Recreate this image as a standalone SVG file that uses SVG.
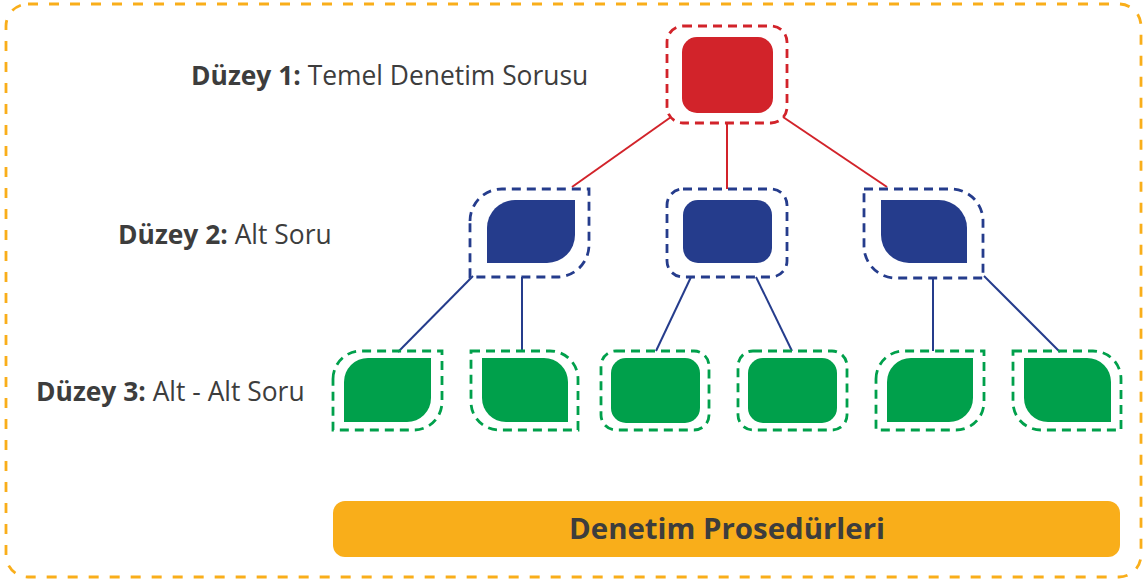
<svg xmlns="http://www.w3.org/2000/svg" width="1145" height="580" viewBox="0 0 1145 580">
  <style>
    .lbl { font-family: "Open Sans", "Liberation Sans", sans-serif; font-size: 26.4px; fill: #3d3d3d; }
    .b { font-weight: bold; }
    .frame { fill: none; stroke: #f9ae1a; stroke-width: 2.8; stroke-dasharray: 10 11; }
    .dr { fill: none; stroke: #d2232a; stroke-width: 2.8; stroke-dasharray: 9 6; }
    .db { fill: none; stroke: #253c8c; stroke-width: 2.8; stroke-dasharray: 9 6; }
    .dg { fill: none; stroke: #00a04b; stroke-width: 2.8; stroke-dasharray: 9 6; }
    .fr { fill: #d2232a; }
    .fb { fill: #253c8c; }
    .fg { fill: #00a04b; }
    .cr { stroke: #d2232a; stroke-width: 2; fill: none; }
    .cb { stroke: #253c8c; stroke-width: 2; fill: none; }
  </style>
  <rect class="frame" x="6" y="4" width="1135" height="573" rx="22"/>

  <g id="labels">
    <text class="lbl" x="191" y="85"><tspan class="b">Düzey 1:</tspan> Temel Denetim Sorusu</text>
    <text class="lbl" x="118" y="244"><tspan class="b">Düzey 2:</tspan> Alt Soru</text>
    <text class="lbl" x="36" y="401"><tspan class="b">Düzey 3:</tspan> Alt - Alt Soru</text>
  </g>

  <g id="connectors">
    <line class="cr" x1="671" y1="117" x2="572" y2="187"/>
    <line class="cr" x1="727" y1="123" x2="727" y2="189"/>
    <line class="cr" x1="783" y1="117" x2="887" y2="187"/>
    <line class="cb" x1="473" y1="276" x2="398" y2="352"/>
    <line class="cb" x1="522" y1="277" x2="522" y2="351"/>
    <line class="cb" x1="691" y1="277" x2="656" y2="351"/>
    <line class="cb" x1="756" y1="277" x2="792" y2="351"/>
    <line class="cb" x1="933" y1="278" x2="933" y2="351"/>
    <line class="cb" x1="984" y1="276" x2="1060" y2="352"/>
  </g>

  <g id="n1">
    <rect class="dr" x="667" y="26" width="120" height="97" rx="16"/>
    <rect class="fr" x="682" y="37" width="91" height="76" rx="15"/>
  </g>

  <g id="n2a">
    <path class="db" d="M470,221 A32,32 0 0 1 502,189 H589 V245 A32,32 0 0 1 557,277 H470 Z"/>
    <path class="fb" d="M487,228 A28,28 0 0 1 515,200 H575 V235 A28,28 0 0 1 547,263 H487 Z"/>
  </g>
  <g id="n2b">
    <rect class="db" x="667" y="189" width="120" height="88" rx="16"/>
    <rect class="fb" x="683" y="200" width="89" height="63" rx="15"/>
  </g>
  <g id="n2c">
    <path class="db" d="M864,189 H951 A32,32 0 0 1 983,221 V278 H896 A32,32 0 0 1 864,246 Z"/>
    <path class="fb" d="M881,200 H939 A28,28 0 0 1 967,228 V263 H909 A28,28 0 0 1 881,235 Z"/>
  </g>

  <g id="n3a">
    <path class="dg" d="M333,379 A28,28 0 0 1 361,351 H442 V402 A28,28 0 0 1 414,430 H333 Z"/>
    <path class="fg" d="M344,382 A24,24 0 0 1 368,358 H431 V398 A24,24 0 0 1 407,422 H344 Z"/>
  </g>
  <g id="n3b">
    <path class="dg" d="M471,351 H550 A28,28 0 0 1 578,379 V430 H499 A28,28 0 0 1 471,402 Z"/>
    <path class="fg" d="M482,358 H544 A24,24 0 0 1 568,382 V422 H506 A24,24 0 0 1 482,398 Z"/>
  </g>
  <g id="n3c">
    <rect class="dg" x="601" y="351" width="108" height="79" rx="15"/>
    <rect class="fg" x="611" y="358" width="89" height="65" rx="15"/>
  </g>
  <g id="n3d">
    <rect class="dg" x="738" y="351" width="109" height="79" rx="15"/>
    <rect class="fg" x="748" y="358" width="89" height="65" rx="15"/>
  </g>
  <g id="n3e">
    <path class="dg" d="M876,379 A28,28 0 0 1 904,351 H984 V402 A28,28 0 0 1 956,430 H876 Z"/>
    <path class="fg" d="M887,382 A24,24 0 0 1 911,358 H973 V398 A24,24 0 0 1 949,422 H887 Z"/>
  </g>
  <g id="n3f">
    <path class="dg" d="M1013,351 H1093 A28,28 0 0 1 1121,379 V430 H1041 A28,28 0 0 1 1013,402 Z"/>
    <path class="fg" d="M1024,358 H1087 A24,24 0 0 1 1111,382 V422 H1048 A24,24 0 0 1 1024,398 Z"/>
  </g>

  <g id="bar">
    <rect x="333" y="501" width="787" height="56" rx="12" fill="#f9ae1a"/>
    <text x="727" y="539" text-anchor="middle" font-family="'Open Sans', 'Liberation Sans', sans-serif" font-size="29.4" font-weight="bold" fill="#3d3d3d">Denetim Prosedürleri</text>
  </g>
</svg>
